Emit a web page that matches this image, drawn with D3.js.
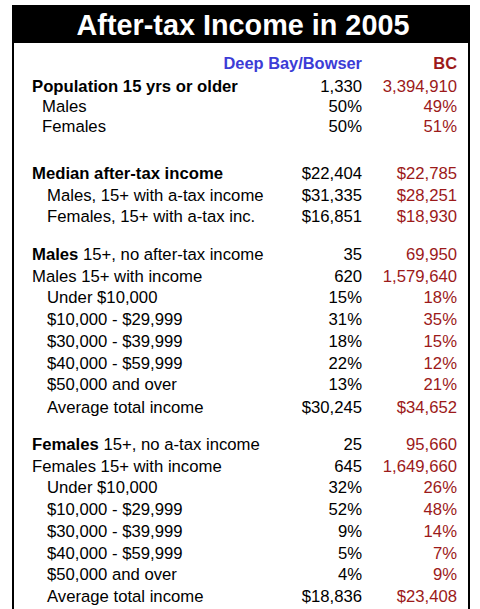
<!DOCTYPE html>
<html>
<head>
<meta charset="utf-8">
<script src="https://cdn.jsdelivr.net/npm/d3@7"></script>
<style>
  body { margin: 0; background: #fff; }
  svg { display: block; font-family: "Liberation Sans", Arial, sans-serif; }
</style>
</head>
<body>
<div id="chart"></div>
<script>
// table contents
var title = "After-tax Income in 2005";
var columns = ["Deep Bay/Bowser", "BC"];

var rowLabels = [
    "Population 15 yrs or older",
    "Males",
    "Females",
    "Median after-tax income",
    "Males, 15+ with a-tax income",
    "Females, 15+ with a-tax inc.",
    "Males 15+, no after-tax income",
    "Males 15+ with income",
    "Under $10,000",
    "$10,000 - $29,999",
    "$30,000 - $39,999",
    "$40,000 - $59,999",
    "$50,000 and over",
    "Average total income",
    "Females 15+, no a-tax income",
    "Females 15+ with income",
    "Under $10,000",
    "$10,000 - $29,999",
    "$30,000 - $39,999",
    "$40,000 - $59,999",
    "$50,000 and over",
    "Average total income"
];

var deepBayValues = [
    "1,330", "50%", "50%",
    "$22,404", "$31,335", "$16,851",
    "35", "620", "15%", "31%", "18%", "22%", "13%", "$30,245",
    "25", "645", "32%", "52%", "9%", "5%", "4%", "$18,836"
];

var bcValues = [
    "3,394,910", "49%", "51%",
    "$22,785", "$28,251", "$18,930",
    "69,950", "1,579,640", "18%", "35%", "15%", "12%", "21%", "$34,652",
    "95,660", "1,649,660", "26%", "48%", "14%", "7%", "9%", "$23,408"
];

// indent level of each row, and which rows are bold (whole or first word)
var rowLevel = [0, 1, 1, 0, 2, 2, 0, 0, 2, 2, 2, 2, 2, 2, 0, 0, 2, 2, 2, 2, 2, 2];
var rowBold = ["all", "", "", "all", "", "", "lead", "", "", "", "", "", "", "", "lead", "", "", "", "", "", "", ""];

var W = 480, H = 609;
var frame = { left: 12, right: 470, top: 5, headBottom: 43 };
var blue = "#3c3cd6", red = "#9c1a1a";
var fontSize = "16.7px";

var svg = d3.select("#chart").append("svg")
    .attr("width", W)
    .attr("height", H);

// header bar + side borders
svg.append("rect")
    .attr("x", frame.left).attr("y", frame.top)
    .attr("width", frame.right - frame.left)
    .attr("height", frame.headBottom - frame.top)
    .attr("fill", "#000");
svg.append("rect").attr("x", frame.left).attr("y", frame.top)
    .attr("width", 2).attr("height", H).attr("fill", "#000");
svg.append("rect").attr("x", frame.right - 2).attr("y", frame.top)
    .attr("width", 2).attr("height", H).attr("fill", "#000");

svg.append("text")
    .attr("x", 243)
    .attr("y", 35)
    .attr("text-anchor", "middle")
    .attr("fill", "#fff")
    .style("font-size", "28.8px")
    .style("font-weight", "bold")
    .text(title);

// column positions (right edges)
var colX = d3.scaleOrdinal().domain(columns).range([362, 457]);
var colColor = d3.scaleOrdinal().domain(columns).range([blue, red]);
var indentX = d3.scaleOrdinal().domain([0, 1, 2]).range([32, 42, 47]);

svg.selectAll(".colHead")
    .data(columns)
    .enter()
    .append("text")
    .attr("class", "colHead")
    .attr("x", d => colX(d))
    .attr("y", 69)
    .attr("text-anchor", "end")
    .attr("fill", d => colColor(d))
    .style("font-size", "16.4px")
    .style("font-weight", "bold")
    .text(d => d);

// row baselines: regular step with extra space before new sections
var step = 21.7;
var extra = { 1: -1.7, 2: -1.7, 3: 25.3, 6: 15.9, 13: 1.1, 14: 15.3 };
var rowY = [];
var yy = 92;
rowLabels.forEach(function (d, i) {
    if (i > 0) yy += step + (extra[i] || 0);
    rowY.push(yy);
});

var rows = svg.selectAll(".row")
    .data(rowLabels.map((d, i) => ({ label: d, i: i })))
    .enter()
    .append("g")
    .attr("class", "row")
    .attr("transform", d => "translate(0," + rowY[d.i] + ")")
    .style("font-size", fontSize);

var lab = rows.append("text")
    .attr("x", d => indentX(rowLevel[d.i]))
    .attr("fill", "#000");

lab.each(function (d) {
    var t = d3.select(this);
    var b = rowBold[d.i];
    if (b === "all") {
        t.style("font-weight", "bold").text(d.label);
    } else if (b === "lead") {
        var k = d.label.indexOf(" ");
        t.append("tspan").style("font-weight", "bold").text(d.label.slice(0, k));
        t.append("tspan").text(d.label.slice(k));
    } else {
        t.text(d.label);
    }
});

rows.append("text")
    .attr("x", colX(columns[0]))
    .attr("text-anchor", "end")
    .attr("fill", "#000")
    .text(d => deepBayValues[d.i]);

rows.append("text")
    .attr("x", colX(columns[1]))
    .attr("text-anchor", "end")
    .attr("fill", red)
    .text(d => bcValues[d.i]);
</script>
</body>
</html>
